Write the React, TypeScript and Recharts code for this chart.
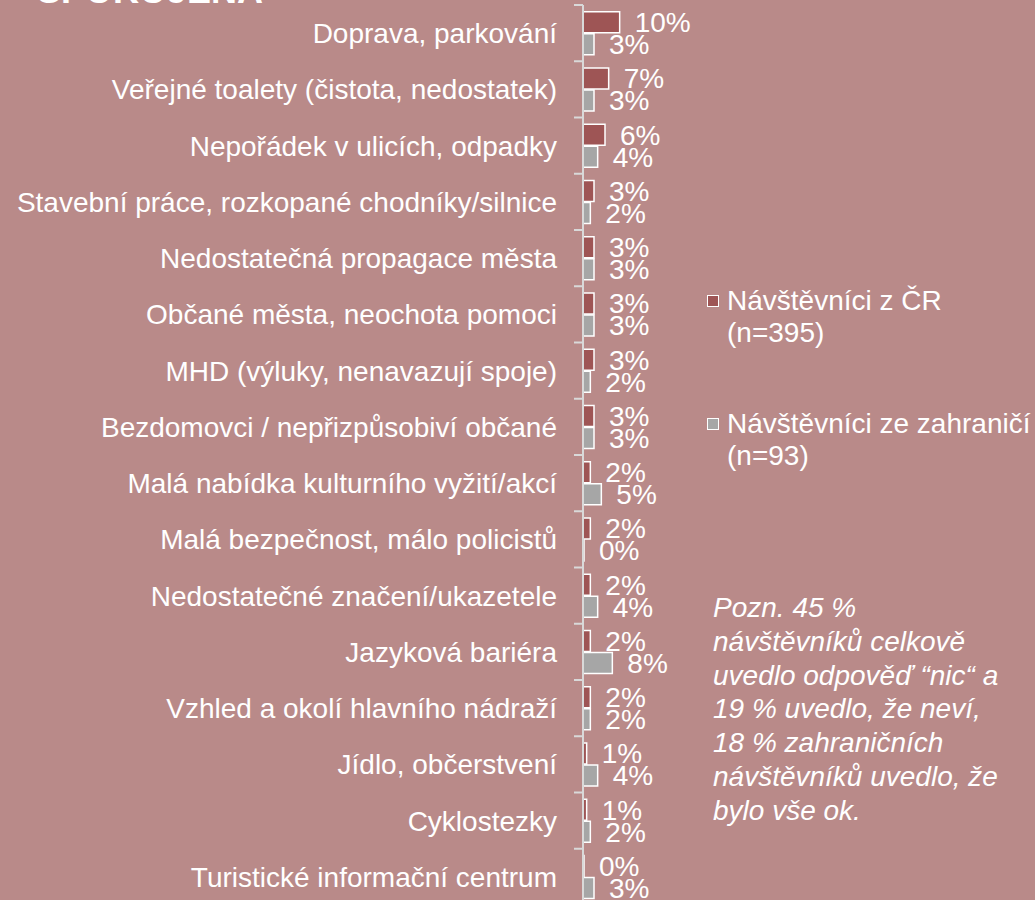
import { BarChart, Bar, XAxis, YAxis, LabelList, Legend } from 'recharts'

const categories = [
  'Doprava, parkování',
  'Veřejné toalety (čistota, nedostatek)',
  'Nepořádek v ulicích, odpadky',
  'Stavební práce, rozkopané chodníky/silnice',
  'Nedostatečná propagace města',
  'Občané města, neochota pomoci',
  'MHD (výluky, nenavazují spoje)',
  'Bezdomovci / nepřizpůsobiví občané',
  'Malá nabídka kulturního vyžití/akcí',
  'Malá bezpečnost, málo policistů',
  'Nedostatečné značení/ukazetele',
  'Jazyková bariéra',
  'Vzhled a okolí hlavního nádraží',
  'Jídlo, občerstvení',
  'Cyklostezky',
  'Turistické informační centrum',
]
const czValues = [10, 7, 6, 3, 3, 3, 3, 3, 2, 2, 2, 2, 2, 1, 1, 0]
const foreignValues = [3, 3, 4, 2, 3, 3, 2, 3, 5, 0, 4, 8, 2, 4, 2, 3]
const seriesNames = ['Návštěvníci z ČR', 'Návštěvníci ze zahraničí']
const sampleSizes = ['(n=395)', '(n=93)']
const noteLines = [
  'Pozn. 45 %',
  'návštěvníků celkově',
  'uvedlo odpověď “nic“ a',
  '19 % uvedlo, že neví,',
  '18 % zahraničních',
  'návštěvníků uvedlo, že',
  'bylo vše ok.',
]
const titleText = 'SPOKOJENA'

const data = categories.map((name, i) => ({
  name,
  cz: czValues[i],
  foreign: foreignValues[i],
}))

const FONT = '"Liberation Sans", Arial, sans-serif'
const BG = '#b98a89'
const RED = '#9e5555'
const GRAY = '#a6a6a6'
const AXIS = '#d9d9d9'
const FS = 28

const CHART_H = 905
const MARGIN_TOP = 5
const band = (CHART_H - MARGIN_TOP) / categories.length

function CategoryTick(props: any) {
  const { x, y, payload } = props
  const lineY = y - band / 2
  return (
    <g>
      <line x1={x + 17} x2={x + 26} y1={lineY} y2={lineY} stroke={AXIS} strokeWidth={2} />
      <text x={x} y={y} dy={10} textAnchor="end" fill="#fff" fontSize={FS} fontFamily={FONT}>
        {payload.value}
      </text>
    </g>
  )
}

function LegendContent() {
  const colors = [RED, GRAY]
  return (
    <div style={{ fontFamily: FONT, color: '#fff', fontSize: FS, lineHeight: '32px' }}>
      {seriesNames.map((s, i) => (
        <div key={s} style={{ display: 'flex', marginBottom: i === 0 ? 59 : 0 }}>
          <div
            style={{
              width: 10,
              height: 10,
              marginTop: 10,
              marginRight: 8,
              background: colors[i],
              border: '1.5px solid #fff',
              flexShrink: 0,
            }}
          />
          <div>
            <div style={{ whiteSpace: 'nowrap' }}>{s}</div>
            <div>{sampleSizes[i]}</div>
          </div>
        </div>
      ))}
    </div>
  )
}

const pct = (v: any) => `${v}%`

export default function App() {
  return (
    <div
      style={{
        position: 'absolute',
        left: 0,
        top: 0,
        width: 1035,
        height: 900,
        overflow: 'hidden',
        background: BG,
        fontFamily: FONT,
      }}
    >
      <svg style={{ position: 'absolute', left: 0, top: 0 }} width={400} height={20}>
        <text x={37} y={3} fill="#fff" fontSize={36} fontWeight="bold" fontFamily={FONT}>
          {titleText}
        </text>
      </svg>
      <div style={{ position: 'absolute', left: 0, top: 0 }}>
        <BarChart
          width={1035}
          height={CHART_H}
          data={data}
          layout="vertical"
          margin={{ top: MARGIN_TOP, right: 342, bottom: 0, left: 0 }}
          barCategoryGap="12%"
          barGap={1}
        >
          <XAxis type="number" domain={[0, 30]} hide />
          <YAxis
            type="category"
            dataKey="name"
            width={583}
            interval={0}
            tickSize={0}
            tickMargin={26}
            tickLine={false}
            axisLine={{ stroke: AXIS, strokeWidth: 2 }}
            tick={<CategoryTick />}
          />
          <Legend
            layout="vertical"
            align="center"
            verticalAlign="middle"
            content={<LegendContent />}
            wrapperStyle={{ left: 707, top: 285, width: 328 }}
          />
          <Bar
            dataKey="cz"
            name={seriesNames[0]}
            fill={RED}
            stroke="#fff"
            strokeWidth={1.5}
            minPointSize={1}
            isAnimationActive={false}
          >
            <LabelList dataKey="cz" position="right" offset={15} fill="#fff" fontSize={FS} fontFamily={FONT} formatter={pct} />
          </Bar>
          <Bar
            dataKey="foreign"
            name={seriesNames[1]}
            fill={GRAY}
            stroke="#fff"
            strokeWidth={1.5}
            minPointSize={1}
            isAnimationActive={false}
          >
            <LabelList dataKey="foreign" position="right" offset={15} fill="#fff" fontSize={FS} fontFamily={FONT} formatter={pct} />
          </Bar>
        </BarChart>
      </div>
      <div
        style={{
          position: 'absolute',
          left: 713,
          top: 591,
          color: '#fff',
          fontSize: FS,
          fontStyle: 'italic',
          lineHeight: '33.8px',
          whiteSpace: 'nowrap',
        }}
      >
        {noteLines.map((l) => (
          <div key={l}>{l}</div>
        ))}
      </div>
    </div>
  )
}
